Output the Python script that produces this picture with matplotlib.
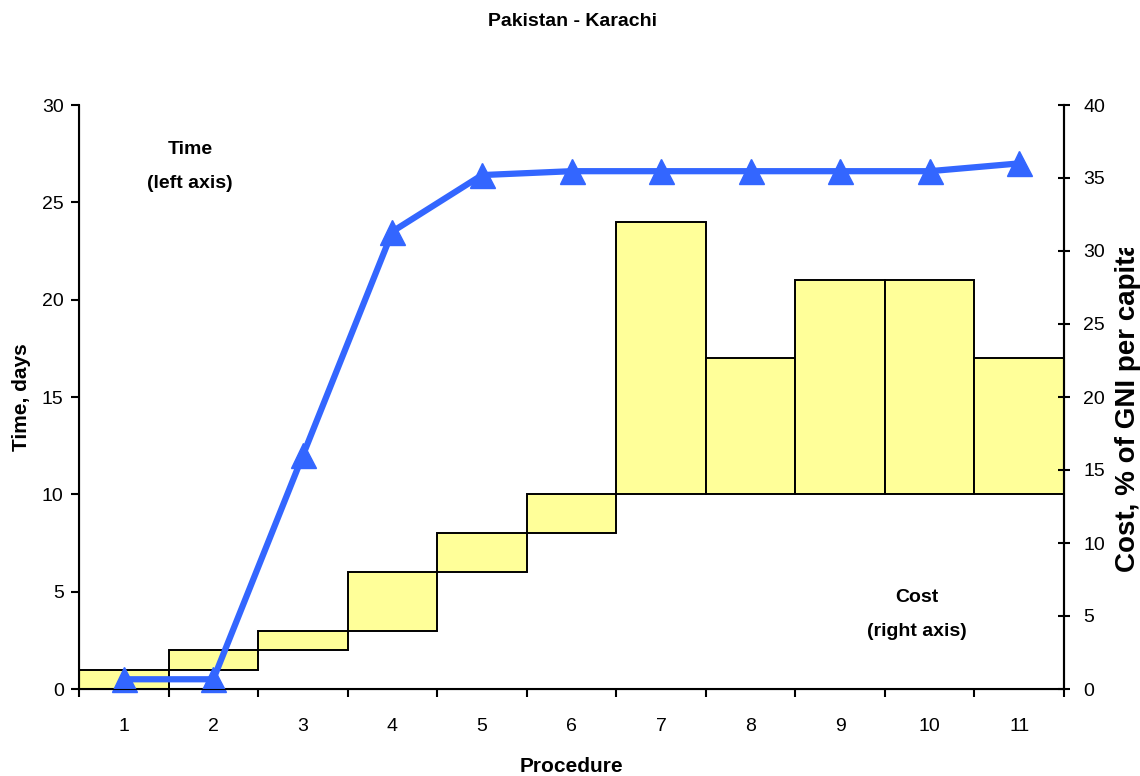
import numpy as np
import matplotlib
matplotlib.use("Agg")
from matplotlib import pyplot as plt
from matplotlib.transforms import Bbox, TransformedBbox

plt.rcParams['font.family'] = ['Liberation Sans', 'DejaVu Sans']

# Procedures and cumulative time (left axis, days)
procedures = list(range(1, 12))
time_days = [0.5, 0.5, 12.0, 23.5, 26.4, 26.6, 26.6, 26.6, 26.6, 26.6, 27.0]

# Floating cost bars, given as low/high ends on the left-axis scale
cost_low = [0, 1, 2, 3, 6, 8, 10, 10, 10, 10, 10]
cost_high = [1, 2, 3, 6, 8, 10, 24, 17, 21, 21, 17]

W, H = 1140, 776
fig = plt.figure(figsize=(W / 100, H / 100), dpi=100)
ax = fig.add_axes([79 / W, 1 - 689 / H, (1064 - 79) / W, (689 - 105) / H])

heights = np.array(cost_high) - np.array(cost_low)
ax.bar(procedures, heights, bottom=cost_low, width=1.0, color='#FFFF99',
       edgecolor='black', linewidth=1.4, zorder=2)
ax.plot(procedures, time_days, color='#3366FF', lw=4.5, marker='^', ms=18,
        mec='#3366FF', zorder=3, clip_on=False)

ax.set_xlim(0.5, 11.5)
ax.set_ylim(0, 30)
ax.set_yticks(range(0, 31, 5))
ax.set_xticks(procedures)
ax.set_xticks(np.arange(0.5, 12, 1), minor=True)
ax.tick_params(axis='x', which='major', length=0, pad=21, labelsize=14)
ax.tick_params(axis='x', which='minor', length=6, width=1.5, direction='out')
ax.tick_params(axis='y', length=6, width=1.5, direction='out', pad=5, labelsize=14)
ax.spines['top'].set_visible(False)
for s in ['left', 'bottom', 'right']:
    ax.spines[s].set_linewidth(1.5)

ax2 = ax.twinx()
ax2.set_ylim(0, 40)
ax2.set_yticks(range(0, 41, 5))
ax2.tick_params(axis='y', direction='inout', length=8, width=1.5, pad=10, labelsize=14)
ax2.spines['top'].set_visible(False)
ax2.spines['right'].set_linewidth(1.5)

# Titles and labels
fig.text(573 / W, 1 - 22 / H, 'Pakistan - Karachi', ha='center', va='center',
         fontsize=14, fontweight='bold')
fig.text(571 / W, 1 - 767 / H, 'Procedure', ha='center', va='center',
         fontsize=15, fontweight='bold')
fig.text(22 / W, 1 - 397 / H, 'Time, days', ha='center', va='center',
         rotation=90, fontsize=15, fontweight='bold')
# the cost axis title runs past the top of its box and is cut off there
cost_lbl = fig.text(1128 / W, 1 - 572 / H, 'Cost, % of GNI per capita', ha='center',
                    va='bottom', rotation=90, fontsize=20, fontweight='bold')
cost_lbl.set_clip_box(TransformedBbox(Bbox([[0, 0], [1, 1 - 248 / H]]), fig.transFigure))
cost_lbl.set_clip_on(True)

fig.text(190 / W, 1 - 149 / H, 'Time', ha='center', va='center',
         fontsize=14, fontweight='bold')
fig.text(190 / W, 1 - 183 / H, '(left axis)', ha='center', va='center',
         fontsize=14, fontweight='bold')
fig.text(917 / W, 1 - 598 / H, 'Cost', ha='center', va='center',
         fontsize=14, fontweight='bold')
fig.text(917 / W, 1 - 631 / H, '(right axis)', ha='center', va='center',
         fontsize=14, fontweight='bold')

fig.savefig('out.png', dpi=100)
